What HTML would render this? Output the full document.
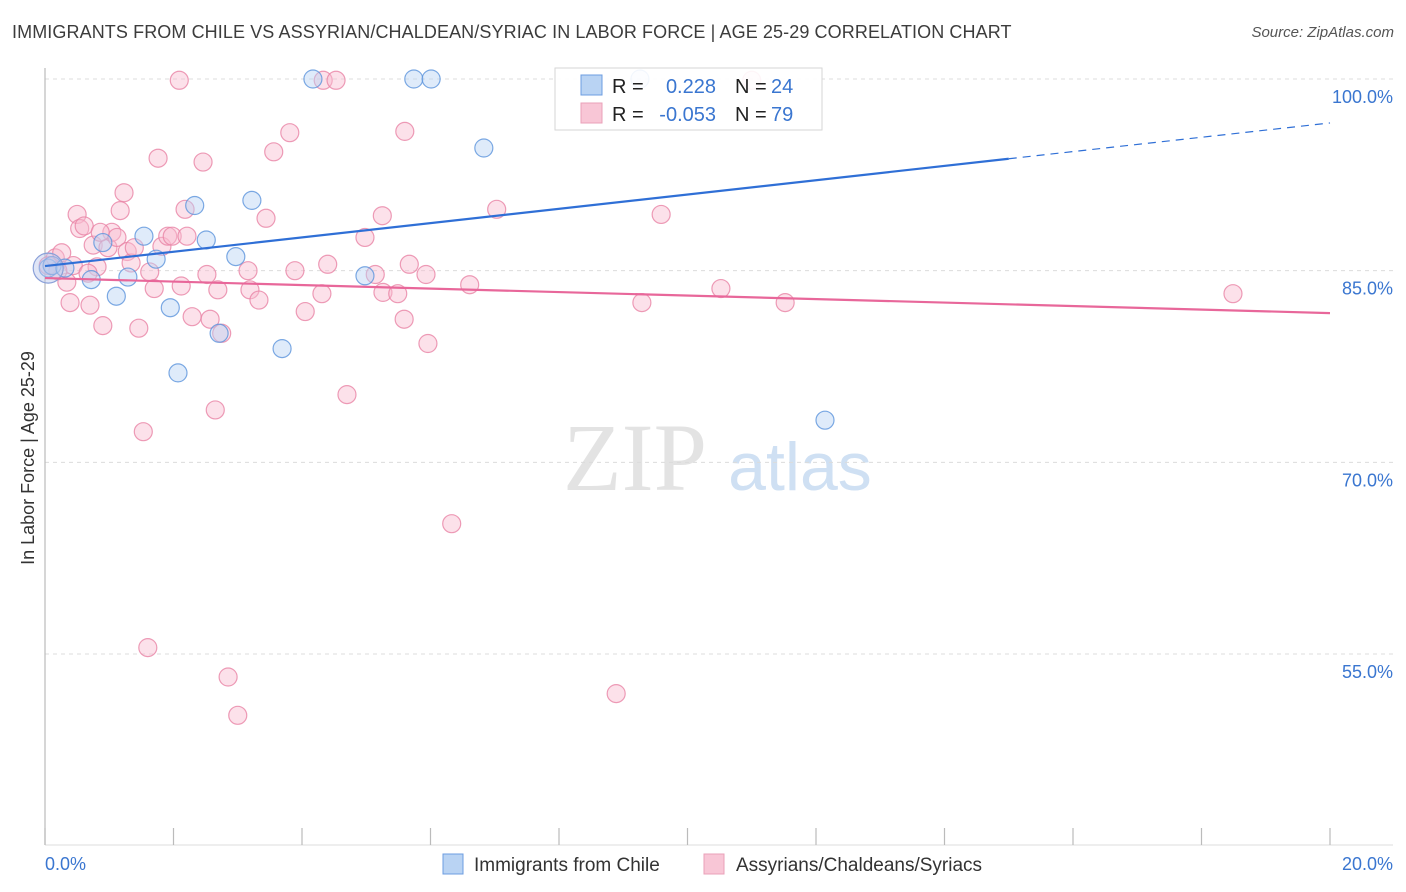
<!DOCTYPE html>
<html><head><meta charset="utf-8">
<style>
html,body{margin:0;padding:0;background:#fff;}
body{width:1406px;height:892px;overflow:hidden;position:relative;font-family:"Liberation Sans",sans-serif;}
.title{position:absolute;left:12px;top:22px;font-size:18px;color:#3c3c3c;letter-spacing:0.1px;}
.source{position:absolute;right:12px;top:24px;font-size:15px;color:#555;font-style:italic;}
</style></head><body>
<div class="title">IMMIGRANTS FROM CHILE VS ASSYRIAN/CHALDEAN/SYRIAC IN LABOR FORCE | AGE 25-29 CORRELATION CHART</div>
<div class="source">Source: ZipAtlas.com</div>
<svg id="chart" width="1406" height="892" style="position:absolute;left:0;top:0"></svg>
<script>
const xTickVals=[0,2,4,6,8,10,12,14,16,18,20];
const yTickVals=[100,85,70,55];
const yTickLabels=["100.0%","85.0%","70.0%","55.0%"];
const chileX=[0.05,0.11,0.31,0.72,0.90,1.11,1.29,1.54,1.73,1.95,2.07,2.33,2.51,2.71,2.97,3.22,3.69,4.17,4.98,5.74,6.01,6.83,9.26,12.14];
const chileY=[85.2,85.4,85.2,84.3,87.2,83.0,84.5,87.7,85.9,82.1,77.0,90.1,87.4,80.1,86.1,90.5,78.9,100,84.6,100,100,94.6,100,73.3];
const assyX=[0.05,0.16,0.26,0.34,0.39,0.44,0.50,0.54,0.61,0.70,0.75,0.81,0.90,0.98,1.04,1.12,1.17,1.23,1.28,1.34,1.39,1.46,1.53,1.60,1.63,1.70,1.76,1.82,1.91,1.98,2.09,2.12,2.18,2.21,2.29,2.46,2.52,2.57,2.65,2.69,2.75,2.85,3.00,3.16,3.19,3.33,3.44,3.56,3.81,3.89,4.05,4.31,4.33,4.40,4.53,4.70,4.98,5.14,5.25,5.26,5.49,5.59,5.60,5.67,5.93,5.96,6.33,6.61,7.03,8.89,9.29,9.59,10.52,11.00,11.52,18.49,0.20,0.86,0.67];
const assyY=[85.4,86.0,86.4,84.1,82.5,85.4,89.4,88.3,88.5,82.3,87.0,85.3,80.7,86.8,88.0,87.6,89.7,91.1,86.5,85.6,86.8,80.5,72.4,55.5,84.9,83.6,93.8,86.9,87.7,87.7,99.9,83.8,89.8,87.7,81.4,93.5,84.7,81.2,74.1,83.5,80.1,53.2,50.2,85.0,83.5,82.7,89.1,94.3,95.8,85.0,81.8,83.2,99.9,85.5,99.9,75.3,87.6,84.7,89.3,83.3,83.2,81.2,95.9,85.5,84.7,79.3,65.2,83.9,89.8,51.9,82.5,89.4,83.6,99.9,82.5,83.2,85.0,88.0,84.8];
const chileTrend=[85.36,96.56];
const assyTrend=[84.42,81.68];
const chileSolidEnd=15.0;

const NS="http://www.w3.org/2000/svg";
const svg=document.getElementById('chart');
const X0=45,X1=1330,Y100=79,Y55=654;
function sx(v){return X0+(v/20)*(X1-X0);}
function sy(v){return Y100+(100-v)/45*(Y55-Y100);}
function mk(tag,attrs,parent){const e=document.createElementNS(NS,tag);for(const k in attrs)e.setAttribute(k,attrs[k]);(parent||svg).appendChild(e);return e;}

// watermark
let wm=mk('text',{x:635,y:490,'font-size':96,'font-family':'Liberation Serif,serif',fill:'#e3e3e3','text-anchor':'middle'});
wm.textContent='ZIP';


let wm2=mk('text',{x:800,y:490,'font-size':68,'font-family':'Liberation Sans,sans-serif',fill:'#cfe0f3','text-anchor':'middle'});
wm2.textContent='atlas';



// gridlines & y labels
yTickVals.forEach((v,i)=>{
  const g=mk('line',{x1:X0,x2:1393,y1:sy(v),y2:sy(v),stroke:'#dcdcdc','stroke-dasharray':'4,4','stroke-width':1});
  
  
  const t=mk('text',{x:1393,y:sy(v)+24,'font-size':18,fill:'#3a76d0','text-anchor':'end'});
  t.textContent=yTickLabels[i];
  
  
});
// axes
let ya=mk('line',{x1:X0,x2:X0,y1:68,y2:845,stroke:'#bbb','stroke-width':1.2});


let xa=mk('line',{x1:X0,x2:1393,y1:845,y2:845,stroke:'#ddd','stroke-width':1});


xTickVals.forEach(v=>{
  const t=mk('line',{x1:sx(v),x2:sx(v),y1:828,y2:845,stroke:'#bbb','stroke-width':1.2});
  
  
});
let xl0=mk('text',{x:45,y:870,'font-size':18,fill:'#3a76d0'});xl0.textContent='0.0%';


let xl1=mk('text',{x:1393,y:870,'font-size':18,fill:'#3a76d0','text-anchor':'end'});xl1.textContent='20.0%';


let yt=mk('text',{x:34,y:458,'font-size':18,fill:'#333','text-anchor':'middle',transform:'rotate(-90 34 458)'});
yt.textContent='In Labor Force | Age 25-29';



// points
function dots(xs,ys,fill,stroke,name){
  xs.forEach((x,i)=>{
    const c=mk('circle',{cx:sx(x),cy:sy(ys[i]),r:9,fill:fill,'fill-opacity':0.45,stroke:stroke,'stroke-width':1.2,'stroke-opacity':0.8});
    
    
  });
}
dots(assyX,assyY,'#f8bcd0','#e883a5','assyrian-point');
dots(chileX,chileY,'#b9d3f3','#5b93dc','chile-point');
let big=mk('circle',{cx:sx(chileX[0]),cy:sy(chileY[0]),r:15,fill:'#b9c6ea','fill-opacity':0.45,stroke:'#8aa0d8','stroke-width':1.2});



// trend lines
const yAtEnd=chileTrend[0]+(chileTrend[1]-chileTrend[0])*chileSolidEnd/20;
let tl1=mk('line',{x1:sx(0),y1:sy(chileTrend[0]),x2:sx(chileSolidEnd),y2:sy(yAtEnd),stroke:'#2f6fd6','stroke-width':2.2});


let tl2=mk('line',{x1:sx(chileSolidEnd),y1:sy(yAtEnd),x2:sx(20),y2:sy(chileTrend[1]),stroke:'#2f6fd6','stroke-width':1.2,'stroke-dasharray':'8,6'});


let tl3=mk('line',{x1:sx(0),y1:sy(assyTrend[0]),x2:sx(20),y2:sy(assyTrend[1]),stroke:'#e8679a','stroke-width':2.2});



// legend box
let lg=mk('g',{});


mk('rect',{x:555,y:68,width:267,height:62,fill:'#fff','fill-opacity':0.9,stroke:'#d6d6d6'},lg);
mk('rect',{x:581,y:75,width:21,height:20,fill:'#b9d3f3',stroke:'#6c9de0'},lg);
mk('rect',{x:581,y:103,width:21,height:20,fill:'#f8c6d6',stroke:'#eaa0b8'},lg);
function lt(x,y,s,c,a){const t=mk('text',{x:x,y:y,'font-size':20,fill:c,'text-anchor':a||'start'},lg);t.textContent=s;return t;}
lt(612,93,'R =','#222');lt(716,93,'0.228','#3a76d0','end');lt(735,93,'N =','#222');lt(771,93,'24','#3a76d0');
lt(612,121,'R =','#222');lt(716,121,'-0.053','#3a76d0','end');lt(735,121,'N =','#222');lt(771,121,'79','#3a76d0');

// bottom legend
let b1=mk('g',{});


mk('rect',{x:443,y:854,width:20,height:20,fill:'#b9d3f3',stroke:'#6c9de0'},b1);
let bt1=mk('text',{x:474,y:871,'font-size':19,fill:'#333'},b1);bt1.textContent='Immigrants from Chile';
let b2=mk('g',{});


mk('rect',{x:704,y:854,width:20,height:20,fill:'#f8c6d6',stroke:'#eaa0b8'},b2);
let bt2=mk('text',{x:736,y:871,'font-size':19,fill:'#333'},b2);bt2.textContent='Assyrians/Chaldeans/Syriacs';
</script>
</body></html>
